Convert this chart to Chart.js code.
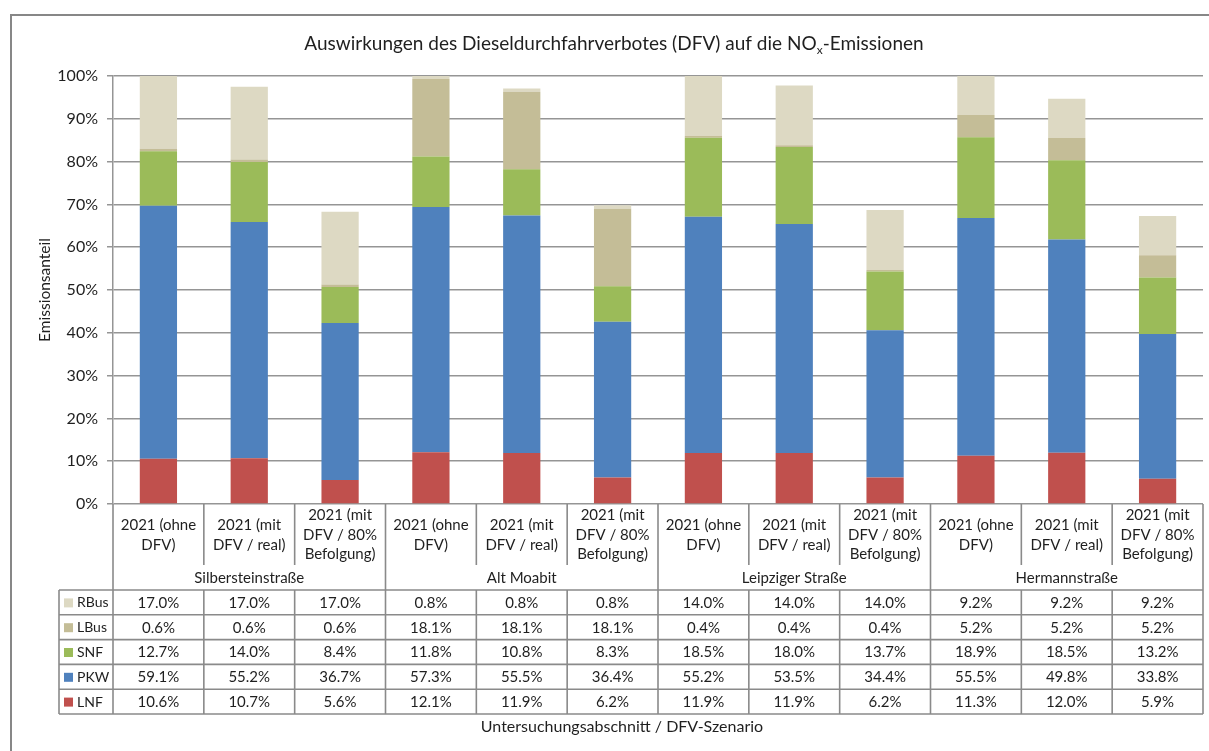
<!DOCTYPE html>
<html>
<head>
<meta charset="utf-8">
<script src="https://cdn.jsdelivr.net/npm/chart.js@4.4.1/dist/chart.umd.min.js"></script>
<style>
  html, body { margin: 0; padding: 0; background: #ffffff; }
  #wrap { position: relative; width: 1209px; height: 751px; }
</style>
</head>
<body>
<div id="wrap"><canvas id="c" width="1209" height="751"></canvas></div>
<script>
// Street sections and scenarios (x categories)
const groups = ['Silbersteinstraße', 'Alt Moabit', 'Leipziger Straße', 'Hermannstraße'];
const scenarios = [
  ['2021 (ohne', 'DFV)'],
  ['2021 (mit', 'DFV / real)'],
  ['2021 (mit', 'DFV / 80%', 'Befolgung)']
];
const categories = groups.flatMap(g => scenarios.map(s => s.join(' ') + ' – ' + g));

// NOx emission shares per vehicle group, in percent
const LNF  = [10.6, 10.7, 5.6,  12.1, 11.9, 6.2,  11.9, 11.9, 6.2,  11.3, 12.0, 5.9];
const PKW  = [59.1, 55.2, 36.7, 57.3, 55.5, 36.4, 55.2, 53.5, 34.4, 55.5, 49.8, 33.8];
const SNF  = [12.7, 14.0, 8.4,  11.8, 10.8, 8.3,  18.5, 18.0, 13.7, 18.9, 18.5, 13.2];
const LBus = [0.6,  0.6,  0.6,  18.1, 18.1, 18.1, 0.4,  0.4,  0.4,  5.2,  5.2,  5.2];
const RBus = [17.0, 17.0, 17.0, 0.8,  0.8,  0.8,  14.0, 14.0, 14.0, 9.2,  9.2,  9.2];

const yTickStep = 10;
const yMax = 100;

const FONT = 'Lato, "Open Sans", sans-serif';
const TEXT = '#1f1f1f';
const LINE = '#8a8a8a';
const TABLE_FONT = '15px ' + FONT;
const KEY_FONT = '14px ' + FONT;

// Frame, title and the data table under the plot
const tablePlugin = {
  id: 'dataTable',
  beforeDraw(chart) {
    const ctx = chart.ctx;
    ctx.save();
    ctx.strokeStyle = '#878787';
    ctx.lineWidth = 2;
    ctx.beginPath();
    ctx.moveTo(11, chart.height);
    ctx.lineTo(11, 15);
    ctx.lineTo(chart.width, 15);
    ctx.stroke();

    // title with subscript x
    const main = 'Auswirkungen des Dieseldurchfahrverbotes (DFV) auf die NO';
    const sub = 'x';
    const tail = '-Emissionen';
    const big = '19px ' + FONT;
    const small = '12px ' + FONT;
    ctx.fillStyle = TEXT;
    ctx.textBaseline = 'middle';
    ctx.font = big;
    const w1 = ctx.measureText(main).width;
    const w3 = ctx.measureText(tail).width;
    ctx.font = small;
    const w2 = ctx.measureText(sub).width;
    const total = w1 + w2 + w3;
    let tx = 614 - total / 2;
    const ty = 44;
    ctx.textAlign = 'left';
    ctx.font = big;
    ctx.fillText(main, tx, ty);
    tx += w1;
    ctx.font = small;
    ctx.fillText(sub, tx, ty + 6);
    tx += w2;
    ctx.font = big;
    ctx.fillText(tail, tx, ty);
    ctx.restore();
  },
  afterDraw(chart) {
    const ctx = chart.ctx;
    const a = chart.chartArea;
    const xs = chart.scales.x;
    const n = chart.data.labels.length;
    const step = (a.right - a.left) / n;
    const top = a.bottom;
    const subLineEnd = top + 61;
    const headBottom = top + 86;
    const rowH = 24.8;
    const legendLeft = 59;
    const rows = chart.data.datasets.slice().reverse();
    const tableBottom = headBottom + rowH * rows.length;

    ctx.save();
    ctx.strokeStyle = LINE;
    ctx.lineWidth = 1.6;
    ctx.beginPath();
    for (let i = 0; i <= n; i++) {
      const x = a.left + i * step;
      if (i % scenarios.length === 0) {
        ctx.moveTo(x, top);
        ctx.lineTo(x, tableBottom);
      } else {
        ctx.moveTo(x, top);
        ctx.lineTo(x, subLineEnd);
        ctx.moveTo(x, headBottom);
        ctx.lineTo(x, tableBottom);
      }
    }
    ctx.moveTo(legendLeft, headBottom);
    ctx.lineTo(legendLeft, tableBottom);
    for (let r = 0; r <= rows.length; r++) {
      const y = headBottom + r * rowH;
      ctx.moveTo(legendLeft, y);
      ctx.lineTo(a.right, y);
    }
    ctx.stroke();

    ctx.fillStyle = TEXT;
    ctx.font = TABLE_FONT;
    ctx.textAlign = 'center';
    ctx.textBaseline = 'middle';

    // scenario labels
    for (let i = 0; i < n; i++) {
      const cx = xs.getPixelForValue(i);
      const lines = scenarios[i % scenarios.length];
      const lh = 19.5;
      const y0 = top + 31 - (lines.length - 1) * lh / 2;
      lines.forEach((t, k) => ctx.fillText(t, cx, y0 + k * lh));
    }
    // group names
    groups.forEach((g, gi) => {
      const x0 = a.left + gi * scenarios.length * step;
      const x1 = x0 + scenarios.length * step;
      ctx.fillText(g, (x0 + x1) / 2, top + 74);
    });

    // value rows with legend keys
    rows.forEach((ds, r) => {
      const cy = headBottom + r * rowH + rowH / 2 + 0.5;
      ctx.fillStyle = ds.backgroundColor;
      ctx.fillRect(64, cy - 4.5, 9, 9);
      ctx.fillStyle = TEXT;
      ctx.textAlign = 'left';
      ctx.font = KEY_FONT;
      ctx.fillText(ds.label, 77, cy);
      ctx.textAlign = 'center';
      ctx.font = TABLE_FONT;
      ds.data.forEach((v, i) => {
        ctx.fillText(v.toFixed(1) + '%', xs.getPixelForValue(i), cy);
      });
    });

    // axis title below the table
    ctx.font = '16px ' + FONT;
    ctx.fillText('Untersuchungsabschnitt / DFV-Szenario', 622, tableBottom + 13);
    ctx.restore();
  }
};

new Chart(document.getElementById('c'), {
  type: 'bar',
  data: {
    labels: categories,
    datasets: [
      { label: 'LNF',  data: LNF,  backgroundColor: '#c0504d' },
      { label: 'PKW',  data: PKW,  backgroundColor: '#4f81bd' },
      { label: 'SNF',  data: SNF,  backgroundColor: '#9bbb59' },
      { label: 'LBus', data: LBus, backgroundColor: '#c4bd97' },
      { label: 'RBus', data: RBus, backgroundColor: '#ddd9c3' }
    ]
  },
  options: {
    responsive: false,
    animation: false,
    devicePixelRatio: 1,
    layout: { padding: { left: 36, right: 6, top: 76, bottom: 247 } },
    datasets: { bar: { categoryPercentage: 1, barPercentage: 0.41 } },
    plugins: {
      legend: { display: false },
      tooltip: { enabled: false },
      title: { display: false }
    },
    scales: {
      x: { stacked: true, display: false },
      y: {
        stacked: true,
        min: 0,
        max: yMax,
        afterFit(scale) { scale.width = 77; },
        ticks: {
          stepSize: yTickStep,
          padding: 9,
          color: TEXT,
          font: { family: FONT, size: 16 },
          callback: v => v + '%'
        },
        grid: { color: '#959595', lineWidth: 1.5, tickLength: 6, tickColor: '#959595' },
        border: { display: true, color: '#959595', width: 1.5 },
        title: {
          display: true,
          text: 'Emissionsanteil',
          color: TEXT,
          padding: 0,
          font: { family: FONT, size: 15.5 }
        }
      }
    }
  },
  plugins: [tablePlugin]
});
</script>
</body>
</html>
